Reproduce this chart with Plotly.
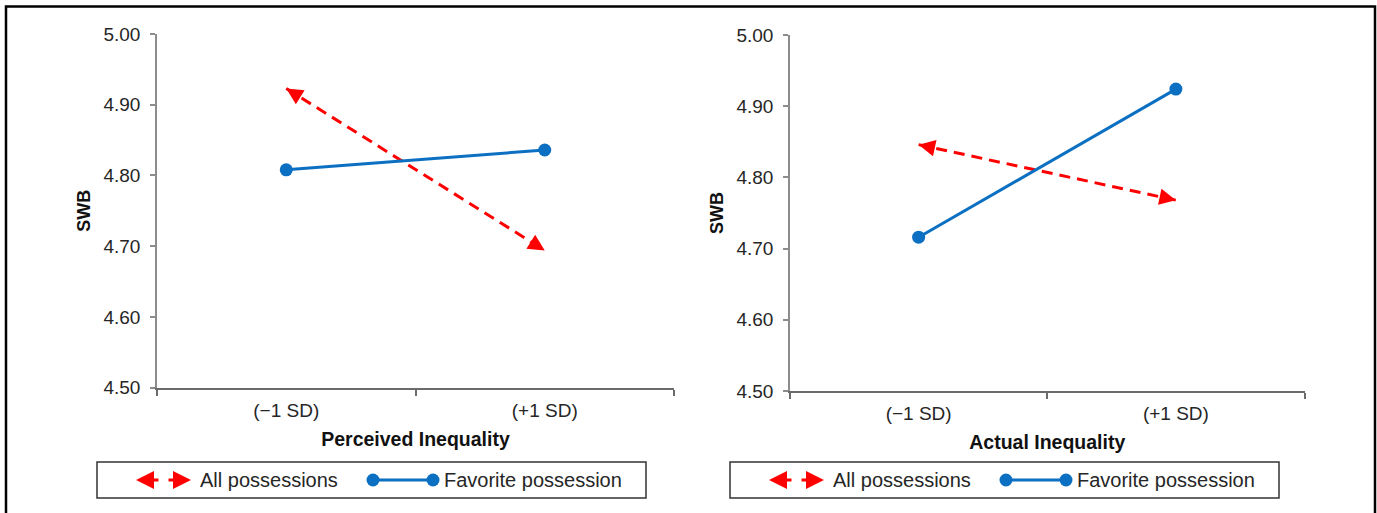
import plotly.graph_objects as go

W, H = 1377, 513

# ---------------- data ----------------
categories = ["(\u22121 SD)", "(+1 SD)"]
perceived_all = [4.923, 4.694]
perceived_fav = [4.808, 4.836]
actual_all = [4.846, 4.768]
actual_fav = [4.716, 4.924]
y_tick_vals = [4.50, 4.60, 4.70, 4.80, 4.90, 5.00]
y_tick_text = ["4.50", "4.60", "4.70", "4.80", "4.90", "5.00"]
x_titles = ["Perceived Inequality", "Actual Inequality"]
y_title = "SWB"
series_names = ["All possessions", "Favorite possession"]

RED = "#ff0000"
BLUE = "#0b6fc2"
TXT = "#262626"
FONT = "Liberation Sans, Arial, sans-serif"
ARROW_FRAC = 0.035  # length of the arrow shaft as a fraction of the segment


def px(x):
    return x / W


def py(y):
    return 1 - y / H


fig = go.Figure()
annotations = []
shapes = []

panels = [
    (perceived_all, perceived_fav, "x", "y"),
    (actual_all, actual_fav, "x2", "y2"),
]
for all_vals, fav_vals, xa, ya in panels:
    fig.add_trace(go.Scatter(
        x=categories, y=all_vals, xaxis=xa, yaxis=ya, mode="lines",
        name=series_names[0], showlegend=False,
        line=dict(color=RED, width=3, dash="11px,7px"),
    ))
    fig.add_trace(go.Scatter(
        x=categories, y=fav_vals, xaxis=xa, yaxis=ya, mode="lines+markers",
        name=series_names[1], showlegend=False,
        line=dict(color=BLUE, width=3),
        marker=dict(size=13, color=BLUE),
    ))
    # arrowheads at both ends of the dashed series (tip at the data point)
    for tip, other in [(0, 1), (1, 0)]:
        annotations.append(dict(
            xref=xa, yref=ya, axref=xa, ayref=ya,
            x=tip, y=all_vals[tip],
            ax=tip + ARROW_FRAC * (other - tip),
            ay=all_vals[tip] + ARROW_FRAC * (all_vals[other] - all_vals[tip]),
            text="", showarrow=True, arrowhead=2, arrowsize=1.1, arrowwidth=3,
            arrowcolor=RED, standoff=0,
        ))

x_domains = [[px(157), px(674)], [px(790), px(1304.5)]]
y_domains = [[py(387.7), py(34)], [py(391), py(35)]]

for i, (xn, yn) in enumerate([("xaxis", "yaxis"), ("xaxis2", "yaxis2")]):
    fig.layout[xn] = dict(
        domain=x_domains[i], anchor="y" if i == 0 else "y2",
        type="category", range=[-0.5, 1.5], tickson="boundaries",
        ticks="outside", ticklen=6, tickwidth=1.5, tickcolor="#6b6b6b",
        showline=True, linecolor="#6b6b6b", linewidth=2, showgrid=False,
        zeroline=False, automargin=False, ticklabelstandoff=4,
        tickfont=dict(family=FONT, size=19, color=TXT),
        title=dict(text=x_titles[i], standoff=13,
                   font=dict(family=FONT, size=19.5, color="#111111", weight="bold")),
    )
    fig.layout[yn] = dict(
        domain=y_domains[i], anchor="x" if i == 0 else "x2",
        range=[4.5, 5.0], tickvals=y_tick_vals, ticktext=y_tick_text,
        ticks="outside", ticklen=5, tickwidth=1.5, tickcolor="#8c8c8c",
        showline=True, linecolor="#8c8c8c", linewidth=1.5, showgrid=False,
        zeroline=False, automargin=False, ticklabelstandoff=6,
        tickfont=dict(family=FONT, size=19, color=TXT),
        title=dict(text=y_title, standoff=8,
                   font=dict(family=FONT, size=18, color="#111111", weight="bold")),
    )

# outer frame
shapes.append(dict(type="rect", xref="paper", yref="paper",
                   x0=px(6), x1=px(1375), y0=py(530), y1=py(6.5),
                   line=dict(color="black", width=2.5)))

# manual legends
for off in [0, 633]:
    shapes.append(dict(type="rect", xref="paper", yref="paper",
                       x0=px(97 + off), x1=px(646 + off), y0=py(498), y1=py(462),
                       line=dict(color="#333333", width=1.5)))
    ly = 480
    annotations.append(dict(xref="paper", yref="paper", x=px(136 + off), y=py(ly),
                            ax=24, ay=0, axref="pixel", ayref="pixel", text="",
                            showarrow=True, arrowhead=2, arrowsize=1.2, arrowwidth=3,
                            arrowcolor=RED, standoff=0))
    annotations.append(dict(xref="paper", yref="paper", x=px(191 + off), y=py(ly),
                            ax=-24, ay=0, axref="pixel", ayref="pixel", text="",
                            showarrow=True, arrowhead=2, arrowsize=1.2, arrowwidth=3,
                            arrowcolor=RED, standoff=0))
    annotations.append(dict(xref="paper", yref="paper", x=px(198 + off), y=py(ly),
                            xanchor="left", yanchor="middle", showarrow=False,
                            text=series_names[0],
                            font=dict(family=FONT, size=20, color=TXT)))
    shapes.append(dict(type="line", xref="paper", yref="paper",
                       x0=px(373 + off), x1=px(433 + off), y0=py(ly), y1=py(ly),
                       line=dict(color=BLUE, width=3)))
    for cx in [373, 433]:
        shapes.append(dict(type="circle", xref="paper", yref="paper",
                           x0=px(cx + off - 6.5), x1=px(cx + off + 6.5),
                           y0=py(ly + 6.5), y1=py(ly - 6.5),
                           fillcolor=BLUE, line=dict(color=BLUE, width=0)))
    annotations.append(dict(xref="paper", yref="paper", x=px(442 + off), y=py(ly),
                            xanchor="left", yanchor="middle", showarrow=False,
                            text=series_names[1],
                            font=dict(family=FONT, size=20, color=TXT)))

fig.update_layout(
    width=W, height=H,
    margin=dict(l=0, r=0, t=0, b=0, autoexpand=False),
    paper_bgcolor="white", plot_bgcolor="white",
    showlegend=False, shapes=shapes, annotations=annotations,
    font=dict(family=FONT, color=TXT),
)

fig.write_html("out.html")
